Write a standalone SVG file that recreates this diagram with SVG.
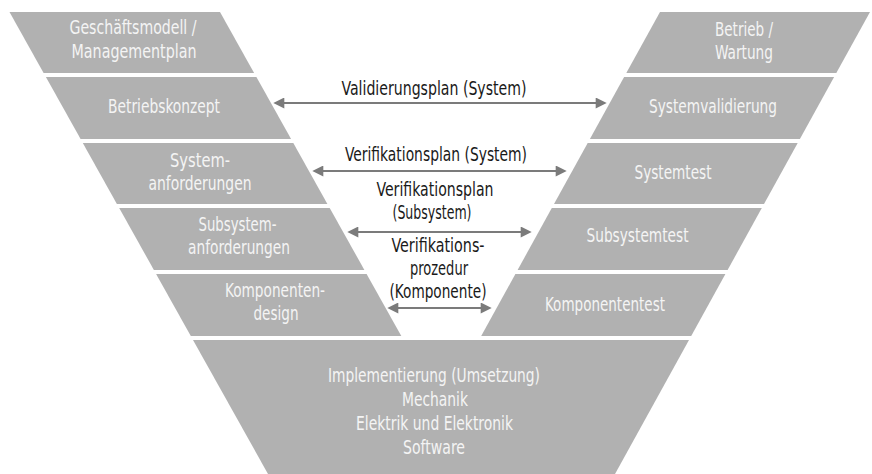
<svg xmlns="http://www.w3.org/2000/svg" width="872" height="474" viewBox="0 0 872 474">
<style>
.band{fill:#b1b1b1}
.lt{font-family:"Liberation Sans Narrow","DejaVu Sans Condensed","Liberation Sans",sans-serif;font-size:20px;fill:#f4f4f4;text-anchor:middle}
.ct{font-family:"Liberation Sans Narrow","DejaVu Sans Condensed","Liberation Sans",sans-serif;font-size:20px;fill:#1a1a1a;text-anchor:middle}
.arr{stroke:#7b7b7b;stroke-width:2.2;fill:none;marker-start:url(#ah);marker-end:url(#ah)}
</style>
<defs>
<marker id="ah" markerUnits="userSpaceOnUse" viewBox="0 0 12 12" refX="8" refY="6" markerWidth="12" markerHeight="11" orient="auto-start-reverse">
<path d="M0,0 L12,6 L0,12 z" fill="#7b7b7b"/>
</marker>
</defs>
<rect width="872" height="474" fill="#ffffff"/>

<g id="geschaeftsmodell">
<polygon class="band" points="9.5,12 220,12 254.1,73 43.6,73"/>
<text class="lt" x="133" y="34" textLength="127" lengthAdjust="spacingAndGlyphs">Geschäftsmodell /</text>
<text class="lt" x="134" y="58" textLength="125" lengthAdjust="spacingAndGlyphs">Managementplan</text>
</g>
<g id="betriebskonzept">
<polygon class="band" points="45.9,77 256.4,77 291.1,139 80.6,139"/>
<text class="lt" x="164" y="113" textLength="112" lengthAdjust="spacingAndGlyphs">Betriebskonzept</text>
</g>
<g id="systemanforderungen">
<polygon class="band" points="82.8,143 293.3,143 327.4,204 116.9,204"/>
<text class="lt" x="200" y="167" textLength="60" lengthAdjust="spacingAndGlyphs">System-</text>
<text class="lt" x="200" y="190" textLength="103" lengthAdjust="spacingAndGlyphs">anforderungen</text>
</g>
<g id="subsystemanforderungen">
<polygon class="band" points="119.2,208 329.7,208 364.4,270 153.9,270"/>
<text class="lt" x="237.5" y="231" textLength="78" lengthAdjust="spacingAndGlyphs">Subsystem-</text>
<text class="lt" x="239" y="254" textLength="102" lengthAdjust="spacingAndGlyphs">anforderungen</text>
</g>
<g id="komponentendesign">
<polygon class="band" points="156.1,274 366.6,274 401.3,336 190.8,336"/>
<text class="lt" x="275" y="297" textLength="100" lengthAdjust="spacingAndGlyphs">Komponenten-</text>
<text class="lt" x="276" y="320" textLength="45" lengthAdjust="spacingAndGlyphs">design</text>
</g>

<g id="betrieb">
<polygon class="band" points="660,12 870,12 836.3,73 626.3,73"/>
<text class="lt" x="744" y="36" textLength="58" lengthAdjust="spacingAndGlyphs">Betrieb /</text>
<text class="lt" x="744" y="59" textLength="58" lengthAdjust="spacingAndGlyphs">Wartung</text>
</g>
<g id="systemvalidierung">
<polygon class="band" points="624.1,77 834.1,77 799.9,139 589.9,139"/>
<text class="lt" x="713" y="113" textLength="128" lengthAdjust="spacingAndGlyphs">Systemvalidierung</text>
</g>
<g id="systemtest">
<polygon class="band" points="587.7,143 797.7,143 764,204 554,204"/>
<text class="lt" x="673" y="179" textLength="77" lengthAdjust="spacingAndGlyphs">Systemtest</text>
</g>
<g id="subsystemtest">
<polygon class="band" points="551.8,208 761.8,208 727.6,270 517.6,270"/>
<text class="lt" x="637.5" y="242" textLength="102" lengthAdjust="spacingAndGlyphs">Subsystemtest</text>
</g>
<g id="komponententest">
<polygon class="band" points="515.4,274 725.4,274 691.2,336 481.2,336"/>
<text class="lt" x="605" y="311" textLength="120" lengthAdjust="spacingAndGlyphs">Komponententest</text>
</g>

<g id="implementierung">
<polygon class="band" points="193,340 689,340 615,474 268,474"/>
<text class="lt" x="434" y="382" textLength="212" lengthAdjust="spacingAndGlyphs">Implementierung (Umsetzung)</text>
<text class="lt" x="435" y="406" textLength="66" lengthAdjust="spacingAndGlyphs">Mechanik</text>
<text class="lt" x="434.5" y="430" textLength="157" lengthAdjust="spacingAndGlyphs">Elektrik und Elektronik</text>
<text class="lt" x="434" y="454" textLength="62" lengthAdjust="spacingAndGlyphs">Software</text>
</g>

<g id="connectors">
<line class="arr" x1="277" y1="103" x2="603" y2="103"/>
<line class="arr" x1="316" y1="171" x2="563" y2="171"/>
<line class="arr" x1="351" y1="232" x2="528" y2="232"/>
<line class="arr" x1="391" y1="308" x2="488" y2="308"/>
</g>

<g id="labels">
<text class="ct" x="434" y="95" textLength="185" lengthAdjust="spacingAndGlyphs">Validierungsplan (System)</text>
<text class="ct" x="436" y="161" textLength="182" lengthAdjust="spacingAndGlyphs">Verifikationsplan (System)</text>
<text class="ct" x="435" y="196" textLength="117" lengthAdjust="spacingAndGlyphs">Verifikationsplan</text>
<text class="ct" x="432" y="219" textLength="79" lengthAdjust="spacingAndGlyphs">(Subsystem)</text>
<text class="ct" x="438" y="252" textLength="93" lengthAdjust="spacingAndGlyphs">Verifikations-</text>
<text class="ct" x="439" y="275" textLength="58" lengthAdjust="spacingAndGlyphs">prozedur</text>
<text class="ct" x="438" y="298" textLength="97" lengthAdjust="spacingAndGlyphs">(Komponente)</text>
</g>
</svg>
